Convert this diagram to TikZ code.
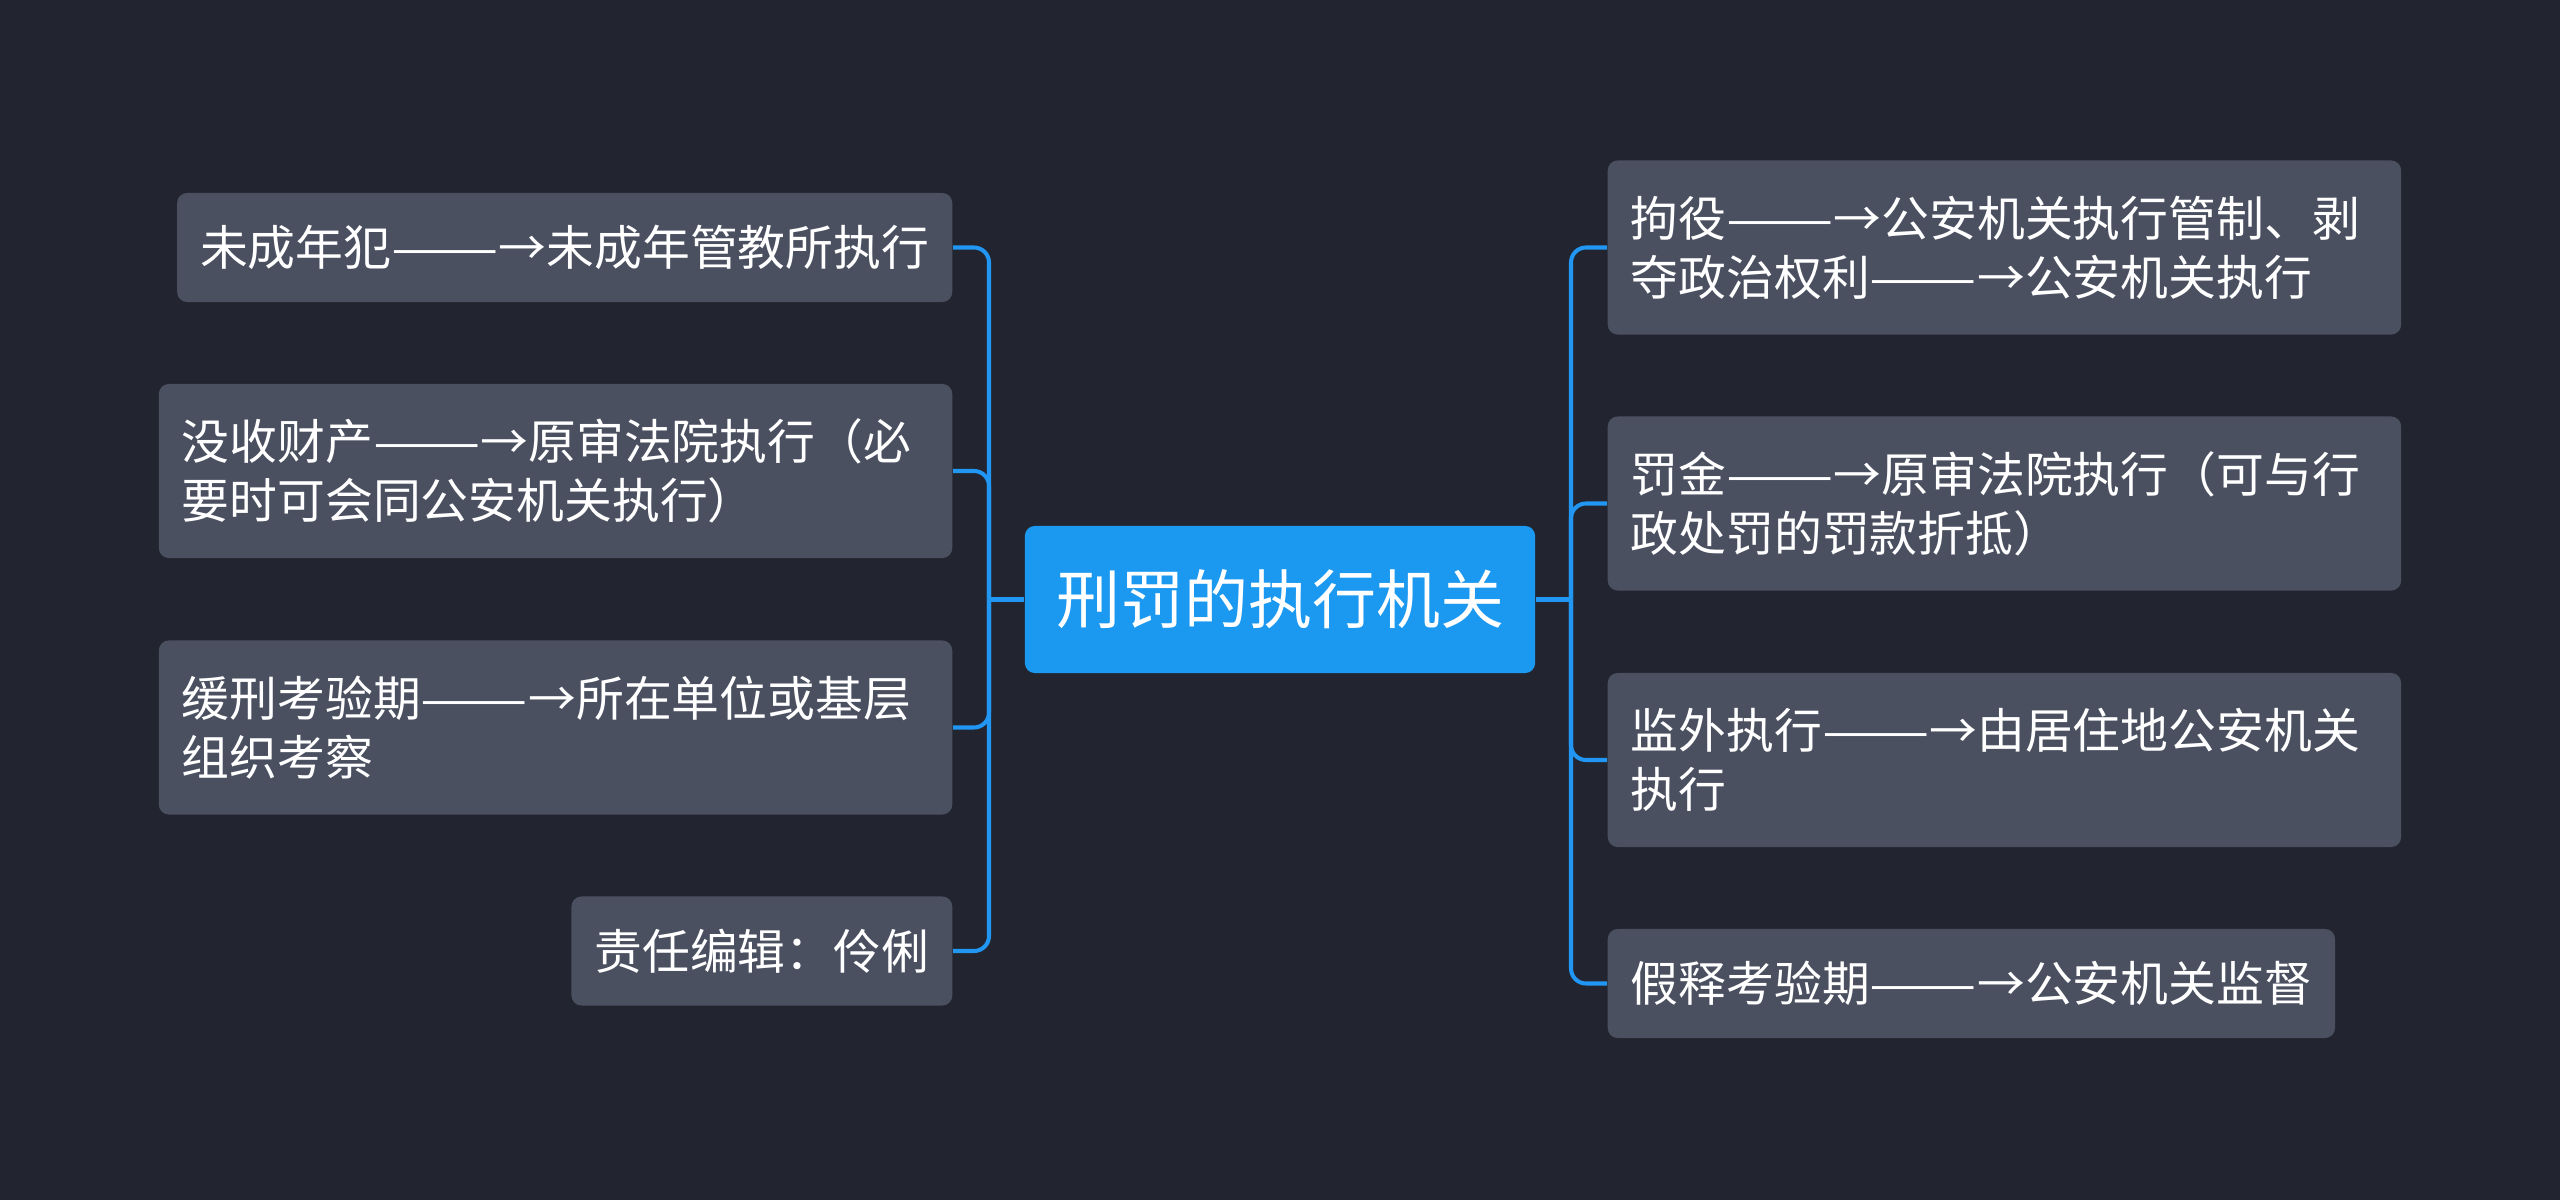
\documentclass[tikz,border=0pt]{standalone}
\usepackage{fontspec}
\setmainfont{Noto Sans CJK SC}
\newfontfamily\dashfont[FakeStretch=1.34]{Noto Sans CJK SC}
\newcommand{\dashto}{{\dashfont ——}→}
\usepackage{tikz}
\usetikzlibrary{positioning}
\definecolor{bgdark}{HTML}{22252F}
\definecolor{leafgray}{HTML}{4A5060}
\definecolor{rootblue}{HTML}{1B98F0}
\definecolor{linkblue}{HTML}{2196F3}
\begin{document}
\begin{tikzpicture}[
  x=0.01cm, y=-0.01cm,
  leaf/.style={fill=leafgray, rounded corners=0.1cm, text=white, inner xsep=0.23cm,
    inner ysep=0pt, minimum height=1.09cm, align=left,
    font=\fontsize{13.6}{16.8}\selectfont},
  twoline/.style={leaf, minimum height=1.74cm, text width=7.47cm},
  root/.style={fill=rootblue, rounded corners=0.1cm, text=white, minimum width=5.1cm,
    minimum height=1.47cm, font=\fontsize{18.2}{22}\selectfont},
  link/.style={draw=linkblue, line width=1.15pt, rounded corners=0.15cm}
]
\fill[bgdark] (0,0) rectangle (2560,1200);
\useasboundingbox (0,0) rectangle (2560,1200);
\node[root] (root) at (1280,599.5) {刑罚的执行机关};
\coordinate (jl) at (989,599.5);
\coordinate (jr) at (1571,599.5);
% left side
\node[leaf, anchor=east] (l1) at (953,247.5) {未成年犯\dashto 未成年管教所执行};
\node[twoline, anchor=east] (l2) at (953,471) {没收财产\dashto 原审法院执行（必\\要时可会同公安机关执行）};
\node[twoline, anchor=east] (l3) at (953,727.5) {缓刑考验期\dashto 所在单位或基层\\组织考察};
\node[leaf, anchor=east] (l4) at (953,951) {责任编辑：伶俐};
% right side
\node[twoline, anchor=west] (r1) at (1607,247.5) {拘役\dashto 公安机关执行管制、剥\\夺政治权利\dashto 公安机关执行};
\node[twoline, anchor=west] (r2) at (1607,503.5) {罚金\dashto 原审法院执行（可与行\\政处罚的罚款折抵）};
\node[twoline, anchor=west] (r3) at (1607,760) {监外执行\dashto 由居住地公安机关\\执行};
\node[leaf, anchor=west] (r4) at (1607,983.5) {假释考验期\dashto 公安机关监督};
\draw[link] (root.west) -- (jl);
\draw[link] (root.east) -- (jr);
\draw[link] (jl) |- (l1.east);
\draw[link] (jl) |- (l2.east);
\draw[link] (jl) |- (l3.east);
\draw[link] (jl) |- (l4.east);
\draw[link] (jr) |- (r1.west);
\draw[link] (jr) |- (r2.west);
\draw[link] (jr) |- (r3.west);
\draw[link] (jr) |- (r4.west);
\end{tikzpicture}
\end{document}
